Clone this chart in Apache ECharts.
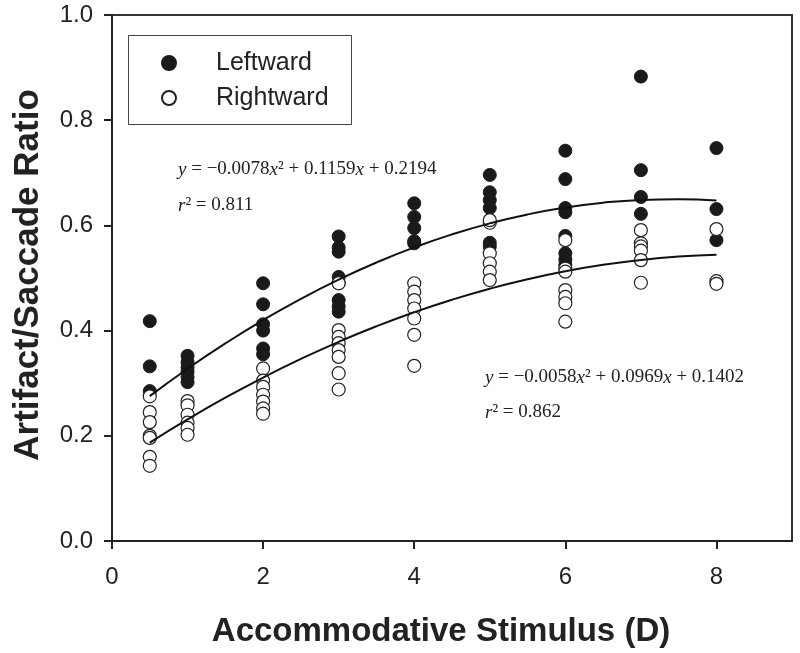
<!DOCTYPE html>
<html>
<head>
<meta charset="utf-8">
<script src="https://cdn.jsdelivr.net/npm/echarts@6/dist/echarts.min.js"></script>
<style>html,body{margin:0;padding:0;background:#fff}#c{width:800px;height:653px}</style>
</head>
<body>
<div id="c"></div>
<script>
// Scatter data: [stimulus (D), artifact/saccade ratio]
var leftward = [
  [0.5,0.418],[0.5,0.332],[0.5,0.285],
  [1,0.352],[1,0.340],[1,0.330],[1,0.322],[1,0.312],[1,0.302],
  [2,0.490],[2,0.450],[2,0.412],[2,0.400],[2,0.366],[2,0.355],
  [3,0.579],[3,0.558],[3,0.550],[3,0.502],[3,0.490],[3,0.458],[3,0.446],[3,0.436],
  [4,0.642],[4,0.616],[4,0.595],[4,0.570],[4,0.566],
  [5,0.696],[5,0.663],[5,0.648],[5,0.633],[5,0.567],[5,0.560],
  [6,0.742],[6,0.688],[6,0.633],[6,0.625],[6,0.580],[6,0.547],[6,0.535],[6,0.525],
  [7,0.883],[7,0.705],[7,0.654],[7,0.622],
  [8,0.747],[8,0.631],[8,0.572]
];
var rightward = [
  [0.5,0.275],[0.5,0.245],[0.5,0.226],[0.5,0.200],[0.5,0.196],[0.5,0.160],[0.5,0.143],
  [1,0.266],[1,0.258],[1,0.240],[1,0.225],[1,0.215],[1,0.202],
  [2,0.328],[2,0.305],[2,0.293],[2,0.278],[2,0.265],[2,0.252],[2,0.242],
  [3,0.490],[3,0.401],[3,0.388],[3,0.376],[3,0.363],[3,0.350],[3,0.319],[3,0.288],
  [4,0.490],[4,0.474],[4,0.458],[4,0.442],[4,0.423],[4,0.392],[4,0.333],
  [5,0.605],[5,0.610],[5,0.547],[5,0.528],[5,0.512],[5,0.496],
  [6,0.572],[6,0.518],[6,0.512],[6,0.477],[6,0.464],[6,0.452],[6,0.417],
  [7,0.591],[7,0.566],[7,0.560],[7,0.552],[7,0.534],[7,0.491],
  [8,0.593],[8,0.494],[8,0.489]
];
// Fitted curves
var fitX = [0.5,1,1.5,2,2.5,3,3.5,4,4.5,5,5.5,6,6.5,7,7.5,8];
var fitLeft = [0.2754,0.3275,0.3757,0.4200,0.4604,0.4969,0.5295,0.5582,0.5830,0.6039,0.6209,0.6340,0.6432,0.6485,0.6499,0.6474];
var fitRight = [0.1872,0.2313,0.2725,0.3108,0.3462,0.3787,0.4083,0.4350,0.4588,0.4797,0.4977,0.5128,0.5250,0.5343,0.5407,0.5442];
var xTicks = [0,2,4,6,8];
var seriesNames = ['Leftward','Rightward'];
var eqLeft = ['y',' = \u22120.0078','x','\u00b2 + 0.1159','x',' + 0.2194'];
var r2Left = '0.811';
var eqRight = ['y',' = \u22120.0058','x','\u00b2 + 0.0969','x',' + 0.1402'];
var r2Right = '0.862';
var xTitle = 'Accommodative Stimulus (D)';
var yTitle = 'Artifact/Saccade Ratio';

function zip(xs, ys){ return xs.map(function(x,i){ return [x, ys[i]]; }); }
function eqText(parts){
  return '{i|'+parts[0]+'}{n|'+parts[1]+'}{i|'+parts[2]+'}{n|'+parts[3]+'}{i|'+parts[4]+'}{n|'+parts[5]+'}';
}
var eqRich = {
  i:{fontFamily:'Liberation Serif',fontStyle:'italic',fontSize:19,fill:'#222'},
  n:{fontFamily:'Liberation Serif',fontSize:19,fill:'#222'}
};

var chart = echarts.init(document.getElementById('c'), null, {renderer:'canvas'});
var axisCommon = {
  axisLine:{show:true,onZero:false,lineStyle:{color:'#222',width:2}},
  axisTick:{show:true,inside:false,length:8,lineStyle:{color:'#222',width:2}},
  splitLine:{show:false},
  axisLabel:{color:'#222',fontFamily:'Liberation Sans',fontSize:24}
};
chart.setOption({
  animation:false,
  backgroundColor:'#fff',
  grid:{left:112,right:8,top:15,bottom:112,show:true,borderColor:'#333',borderWidth:2,backgroundColor:'transparent'},
  xAxis:Object.assign({},axisCommon,{
    type:'value',min:0,max:9,
    axisTick:Object.assign({},axisCommon.axisTick,{customValues:xTicks}),
    axisLabel:Object.assign({},axisCommon.axisLabel,{customValues:xTicks,margin:24})
  }),
  yAxis:Object.assign({},axisCommon,{
    type:'value',min:0,max:1,interval:0.2,
    axisLabel:Object.assign({},axisCommon.axisLabel,{margin:19,formatter:function(v){return v.toFixed(1);}})
  }),
  legend:{
    orient:'vertical',left:156,top:45,itemGap:9,itemWidth:14,itemHeight:14,
    data:[{name:seriesNames[0],icon:'circle'},{name:seriesNames[1],icon:'circle'}],
    textStyle:{fontFamily:'Liberation Sans',fontSize:25,color:'#222',lineHeight:26,padding:[0,0,0,35]}
  },
  graphic:[
    {type:'rect',left:126,top:33,z:0,shape:{width:223,height:89},style:{fill:'none',stroke:'#444',lineWidth:1}},
    {type:'text',left:178,top:160,style:{text:eqText(eqLeft),rich:eqRich}},
    {type:'text',left:178,top:196,style:{text:'{i|r}{n|\u00b2 = '+r2Left+'}',rich:eqRich}},
    {type:'text',left:485,top:368,style:{text:eqText(eqRight),rich:eqRich}},
    {type:'text',left:485,top:403,style:{text:'{i|r}{n|\u00b2 = '+r2Right+'}',rich:eqRich}},
    {type:'text',x:441,y:632,style:{text:xTitle,fontFamily:'Liberation Sans',fontWeight:'bold',fontSize:33,fill:'#222',align:'center',verticalAlign:'middle'}},
    {type:'text',x:28,y:275,rotation:Math.PI/2,style:{text:yTitle,fontFamily:'Liberation Sans',fontWeight:'bold',fontSize:35,fill:'#222',align:'center',verticalAlign:'middle'}}
  ],
  series:[
    {name:seriesNames[0],type:'scatter',data:leftward,symbol:'circle',symbolSize:13,z:3,
     itemStyle:{color:'#1a1a1a',borderColor:'#1a1a1a',borderWidth:1,opacity:1}},
    {name:seriesNames[1],type:'scatter',data:rightward,symbol:'circle',symbolSize:13,z:4,
     itemStyle:{color:'#fff',borderColor:'#222',borderWidth:1.2,opacity:1}},
    {name:'fitL',type:'line',data:zip(fitX,fitLeft),smooth:true,showSymbol:false,symbol:'none',z:5,
     lineStyle:{color:'#111',width:2},silent:true},
    {name:'fitR',type:'line',data:zip(fitX,fitRight),smooth:true,showSymbol:false,symbol:'none',z:5,
     lineStyle:{color:'#111',width:2},silent:true}
  ]
});
</script>
</body>
</html>
